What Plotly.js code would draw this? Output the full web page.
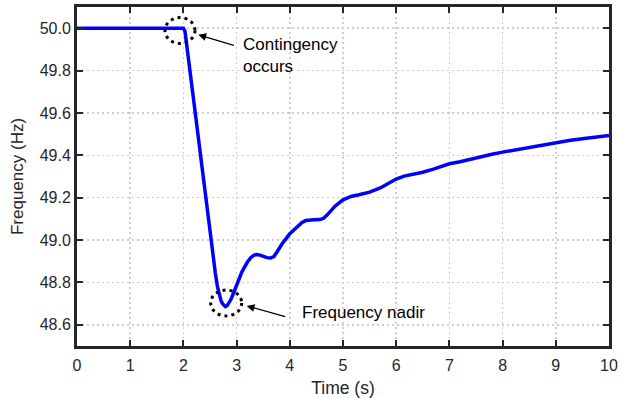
<!DOCTYPE html>
<html>
<head>
<meta charset="utf-8">
<script src="https://cdn.plot.ly/plotly-3.0.1.min.js"></script>
<style>html,body{margin:0;padding:0;background:#fff;}#chart{width:634px;height:398px;}</style>
</head>
<body>
<div id="chart"></div>
<script>
// Time (s)
var timeS = [0, 2.0, 2.03, 2.3, 2.6, 2.64, 2.68, 2.71, 2.74, 2.77, 2.79, 2.82, 2.85, 2.89, 2.93, 3.0, 3.1, 3.2, 3.27, 3.33, 3.38, 3.44, 3.5, 3.57, 3.64, 3.7, 3.75, 3.85, 4.0, 4.15, 4.23, 4.3, 4.38, 4.45, 4.57, 4.64, 4.7, 4.85, 5.0, 5.08, 5.15, 5.3, 5.5, 5.7, 5.9, 6.0, 6.15, 6.3, 6.5, 6.7, 7.0, 7.2, 7.4, 7.6, 7.8, 8.0, 8.25, 8.5, 8.75, 9.0, 9.25, 9.5, 9.75, 10];
// Frequency (Hz)
var freqHz = [50.0, 50.0, 49.985, 49.43, 48.845, 48.78, 48.735, 48.712, 48.698, 48.689, 48.686, 48.69, 48.70, 48.718, 48.742, 48.79, 48.85, 48.895, 48.918, 48.929, 48.932, 48.929, 48.923, 48.917, 48.915, 48.922, 48.94, 48.98, 49.03, 49.068, 49.083, 49.092, 49.095, 49.096, 49.097, 49.104, 49.118, 49.16, 49.19, 49.2, 49.206, 49.214, 49.226, 49.246, 49.275, 49.288, 49.302, 49.31, 49.32, 49.335, 49.36, 49.37, 49.383, 49.395, 49.405, 49.415, 49.426, 49.44, 49.452, 49.462, 49.47, 49.478, 49.486, 49.494];
var xTicks = [0, 1, 2, 3, 4, 5, 6, 7, 8, 9, 10];
var yTicks = [48.6, 48.8, 49.0, 49.2, 49.4, 49.6, 49.8, 50.0];
var yTickLabels = ["48.6", "48.8", "49.0", "49.2", "49.4", "49.6", "49.8", "50.0"];

var font = "Liberation Sans, Arial, sans-serif";
var axisCol = "#262626";

var trace = {
  x: timeS, y: freqHz, type: "scatter", mode: "lines",
  line: {color: "#0000ff", width: 3.5, shape: "linear"},
  hoverinfo: "skip"
};

var axisBase = {
  showline: true, linecolor: axisCol, linewidth: 3, mirror: "ticks",
  ticks: "inside", ticklen: 6, tickwidth: 2, tickcolor: axisCol,
  showgrid: true, gridcolor: "#cfcfcf", gridwidth: 1.5, griddash: "2px,3px",
  zeroline: false,
  tickfont: {family: font, size: 16, color: axisCol}
};

var layout = {
  width: 634, height: 398,
  margin: {l: 77, r: 25, t: 7, b: 52},
  paper_bgcolor: "#fff", plot_bgcolor: "#fff",
  showlegend: false,
  xaxis: Object.assign({}, axisBase, {
    range: [0, 10], tickvals: xTicks, ticktext: xTicks.map(String), ticklabelstandoff: 3,
    title: {text: "Time (s)", font: {family: font, size: 17.5, color: axisCol}, standoff: 9}
  }),
  yaxis: Object.assign({}, axisBase, {
    range: [48.5, 50.1], tickvals: yTicks, ticktext: yTickLabels,
    title: {text: "Frequency (Hz)", font: {family: font, size: 17, color: axisCol}, standoff: 12}
  }),
  shapes: [
    {type: "circle", xref: "x", yref: "y", x0: 1.654, x1: 2.218, y0: 49.928, y1: 50.05,
     line: {color: "#000", width: 3, dash: "3px,4px"}},
    {type: "circle", xref: "x", yref: "y", x0: 2.513, x1: 3.096, y0: 48.642, y1: 48.764,
     line: {color: "#000", width: 3, dash: "3px,4px"}}
  ],
  annotations: [
    {x: 2.28, y: 49.969, xref: "x", yref: "y", ax: 37, ay: 11, showarrow: true,
     arrowhead: 2, arrowsize: 1.3, arrowwidth: 1.2, arrowcolor: "#000", text: ""},
    {x: 3.19, y: 48.689, xref: "x", yref: "y", ax: 40, ay: 11, showarrow: true,
     arrowhead: 2, arrowsize: 1.3, arrowwidth: 1.2, arrowcolor: "#000", text: ""},
    {x: 3.077, y: 49.87, xref: "x", yref: "y", showarrow: false, xanchor: "left", yanchor: "middle",
     align: "left", text: "Contingency<br>occurs", font: {family: font, size: 17, color: "#000"}},
    {x: 4.19, y: 48.66, xref: "x", yref: "y", showarrow: false, xanchor: "left", yanchor: "middle",
     align: "left", text: "Frequency nadir", font: {family: font, size: 17, color: "#000"}}
  ]
};

Plotly.newPlot("chart", [trace], layout, {staticPlot: true, displayModeBar: false});
</script>
</body>
</html>
